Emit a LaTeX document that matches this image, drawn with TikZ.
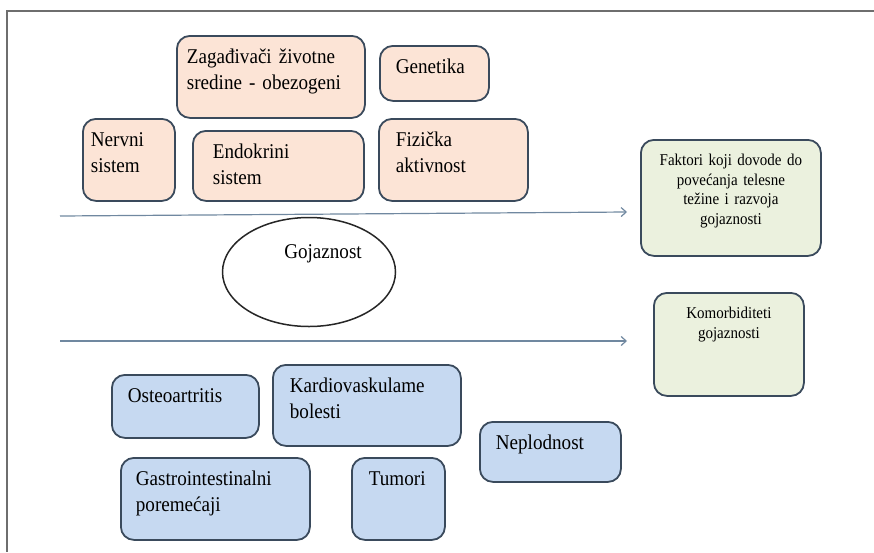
\documentclass[tikz,border=0pt]{standalone}
\usepackage{fontspec}
\setmainfont{Liberation Serif}[FakeStretch=0.91]
\usepackage{tikz}
\usetikzlibrary{arrows.meta}
\usetikzlibrary{shapes.geometric}

\definecolor{peachfill}{RGB}{252,228,214}
\definecolor{bluefill}{RGB}{198,217,241}
\definecolor{greenfill}{RGB}{235,241,222}
\definecolor{edgecol}{RGB}{58,74,92}
\definecolor{arrowcol}{RGB}{112,136,160}
\definecolor{framecol}{RGB}{110,110,110}

\newcommand{\boxfont}{\fontsize{21}{26}\selectfont}
\newcommand{\noteboxfont}{\fontsize{16.5}{19.5}\selectfont}

\begin{document}
\begin{tikzpicture}[
    x=1pt, y=-1pt,
    factor/.style={
        draw=edgecol, line width=1.8pt,
        rounded corners=13pt,
        anchor=north west,
        align=left,
        inner xsep=15pt, inner ysep=13pt,
        text height=15pt,
        font=\boxfont
    },
    note/.style={
        factor,
        align=center,
        inner xsep=6pt, inner ysep=14pt,
        text height=12pt,
        font=\noteboxfont
    },
    flow/.style={
        draw=arrowcol, line width=1.2pt,
        -{Straight Barb[length=5pt,width=9pt]}
    }
]
\useasboundingbox (0,0) rectangle (874,552);
\draw[framecol, line width=1.5pt] (874,11) -- (7,11) -- (7,552);

% factors leading to obesity
\node[factor, fill=peachfill, inner xsep=10pt, text width=168pt, text depth=41pt] (zagadjivaci) at (176,35) {Zagađivači životne\\sredine - obezogeni};
\node[factor, fill=peachfill, inner xsep=16pt, text width=77pt, text depth=14pt] (genetika) at (379,45) {Genetika};
\node[factor, fill=peachfill, inner xsep=8pt, text width=76pt, text depth=41pt] (nervni) at (82,118) {Nervni\\sistem};
\node[factor, fill=peachfill, inner xsep=20pt, text width=131pt, text depth=29pt] (endokrini) at (192,130) {Endokrini\\sistem};
\node[factor, fill=peachfill, inner xsep=17pt, text width=115pt, text depth=41pt] (fizicka) at (378,118) {Fizička\\aktivnost};

\node[note, fill=greenfill, text width=168pt, text depth=76pt] (faktori) at (640,139) {Faktori koji dovode do\\povećanja telesne\\težine i razvoja\\gojaznosti};

\node[draw=black!85, line width=1.5pt, ellipse, minimum width=173pt, minimum height=109pt, font=\boxfont] (gojaznost) at (309,272) {\raisebox{14pt}[0pt][0pt]{\hspace*{28pt}Gojaznost}};

\coordinate (upstart) at (60,216);
\coordinate (upend) at (627,212);
\draw[flow] (upstart) -- (upend);

\coordinate (lowstart) at (60,341);
\coordinate (lowend) at (627,341);
\draw[flow] (lowstart) -- (lowend);

\node[note, fill=greenfill, text width=138pt, text depth=63pt] (komorbiditeti) at (653,292) {Komorbiditeti\\gojaznosti};

% comorbidities
\node[factor, fill=bluefill, inner xsep=16pt, text width=115pt, text depth=22pt] (osteo) at (111,374) {Osteoartritis};
\node[factor, fill=bluefill, inner xsep=17pt, text width=154pt, text depth=40pt] (kardio) at (272,364) {Kardiovaskulame\\bolesti};
\node[factor, fill=bluefill, inner xsep=16pt, text width=109pt, text depth=19pt] (neplodnost) at (479,421) {Neplodnost};
\node[factor, fill=bluefill, inner xsep=15pt, text width=159pt, text depth=41pt] (gastro) at (120,457) {Gastrointestinalni\\poremećaji};
\node[factor, fill=bluefill, inner xsep=17pt, text width=59pt, text depth=41pt] (tumori) at (351,457) {Tumori};
\end{tikzpicture}
\end{document}
